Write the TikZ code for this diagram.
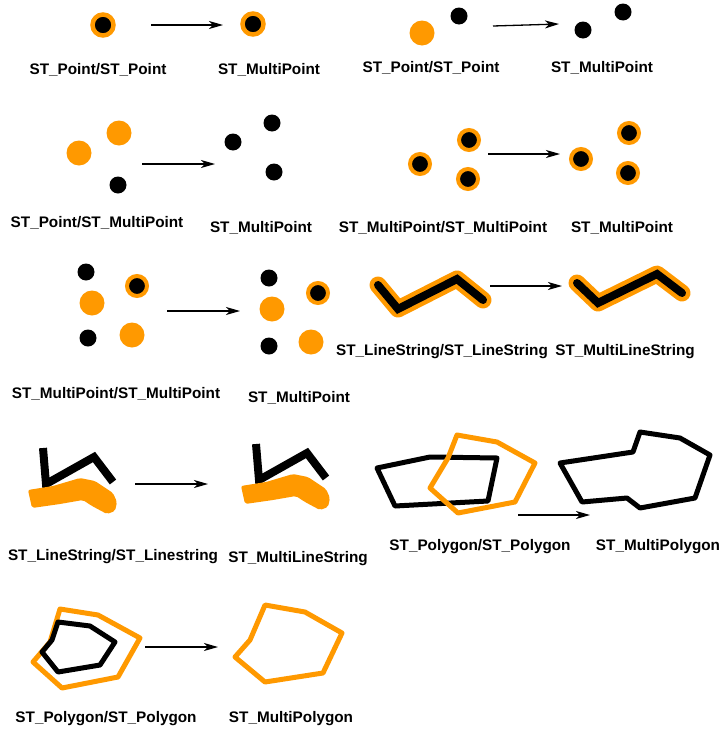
\documentclass[tikz,border=0pt]{standalone}
\usepackage{fontspec}
\setmainfont{Liberation Sans}
\usetikzlibrary{arrows.meta}
\definecolor{orng}{RGB}{255,153,0}
\tikzset{
  lbl/.style={font=\bfseries\fontsize{15.3}{18}\selectfont, anchor=base, inner sep=0pt},
  odot/.style={circle, fill=orng, minimum size=25pt, inner sep=0pt},
  bdot/.style={circle, fill=black, minimum size=17pt, inner sep=0pt},
  rdot/.style={circle, fill=black, draw=orng, line width=4pt, minimum size=20pt, inner sep=0pt},
  rbig/.style={rdot, minimum size=21pt, line width=4.5pt},
  arr/.style={-{Stealth[length=14pt,width=8pt,inset=4pt]}, line width=1.3pt},
  blkpoly/.style={draw=black, line width=5pt, line join=round},
  orgpoly/.style={draw=orng, line width=5pt, line join=round},
  lsout/.style={draw=orng, line width=17pt, line cap=round, line join=round},
  lsin/.style={draw=black, line width=8pt, line cap=round, line join=miter},
  blkline/.style={draw=black, line width=8pt, line cap=butt, line join=miter},
  orgblob/.style={fill=orng, rounded corners=2pt}
}
\begin{document}
\begin{tikzpicture}[x=1pt, y=-1pt]
\path[use as bounding box] (0,0) rectangle (721,731);

% ---------- Panel 1 ----------
\node[rbig] (p1a) at (103,25) {};
\node[rbig] (p1b) at (253,24) {};
\coordinate (a1s) at (151,25); \coordinate (a1e) at (223,25);
\draw[arr] (a1s) -- (a1e);
\node[lbl] (l1) at (98,74.5) {ST\_Point/ST\_Point};
\node[lbl] (l2) at (269,74.5) {ST\_MultiPoint};

% ---------- Panel 2 ----------
\node[odot] (p2a) at (422,33) {};
\node[bdot] (p2b) at (459,16) {};
\coordinate (a2s) at (493,26); \coordinate (a2e) at (559,24);
\draw[arr] (a2s) -- (a2e);
\node[bdot] (p2c) at (583,30) {};
\node[bdot] (p2d) at (623,12) {};
\node[lbl] (l3) at (431,72.5) {ST\_Point/ST\_Point};
\node[lbl] (l4) at (602,72.5) {ST\_MultiPoint};

% ---------- Panel 3 ----------
\node[odot] (p3a) at (79,153) {};
\node[odot] (p3b) at (119,133) {};
\node[bdot] (p3c) at (118,185) {};
\coordinate (a3s) at (142,164); \coordinate (a3e) at (215,164);
\draw[arr] (a3s) -- (a3e);
\node[bdot] (p3d) at (233,142) {};
\node[bdot] (p3e) at (272,123) {};
\node[bdot] (p3f) at (274,172) {};
\node[lbl] (l5) at (97,227.5) {ST\_Point/ST\_MultiPoint};
\node[lbl] (l6) at (261,232.5) {ST\_MultiPoint};

% ---------- Panel 4 ----------
\node[rdot] (p4a) at (420,164) {};
\node[rdot] (p4b) at (469,140) {};
\node[rdot] (p4c) at (468,179) {};
\coordinate (a4s) at (488,154); \coordinate (a4e) at (560,154);
\draw[arr] (a4s) -- (a4e);
\node[rdot] (p4d) at (581,159) {};
\node[rdot] (p4e) at (629,133) {};
\node[rdot] (p4f) at (628,173) {};
\node[lbl] (l7) at (443,232.5) {ST\_MultiPoint/ST\_MultiPoint};
\node[lbl] (l8) at (622,232.5) {ST\_MultiPoint};

% ---------- Panel 5 ----------
\node[bdot] (p5a) at (86,272) {};
\node[rdot] (p5b) at (137,286) {};
\node[odot] (p5c) at (92,303) {};
\node[bdot] (p5d) at (88,338) {};
\node[odot] (p5e) at (132,335) {};
\coordinate (a5s) at (167,311); \coordinate (a5e) at (240,311);
\draw[arr] (a5s) -- (a5e);
\node[bdot] (p5f) at (269,278) {};
\node[rdot] (p5g) at (318,293) {};
\node[odot] (p5h) at (272,309) {};
\node[bdot] (p5i) at (269,346) {};
\node[odot] (p5j) at (311,342) {};
\node[lbl] (l9) at (116,398.5) {ST\_MultiPoint/ST\_MultiPoint};
\node[lbl] (l10) at (299,402.5) {ST\_MultiPoint};

% ---------- Panel 6 ----------
\draw[lsout] (378,285) -- (398,309) -- (457,279) -- (483,300);
\draw[lsin]  (378,285) -- (398,309) -- (457,279) -- (483,300);
\coordinate (a6s) at (490,286); \coordinate (a6e) at (562,286);
\draw[arr] (a6s) -- (a6e);
\draw[lsout] (577,283) -- (598,303) -- (657,274) -- (682,293);
\draw[lsin]  (577,283) -- (598,303) -- (657,274) -- (682,293);
\node[lbl] (l11) at (442,355.5) {ST\_LineString/ST\_LineString};
\node[lbl] (l12) at (625,355.5) {ST\_MultiLineString};

% ---------- Panel 7 ----------
\draw[blkline] (43,448) -- (46,484) -- (94,457) -- (113,482);
\fill[orgblob] (28,490) -- (53,486) -- (80,478) -- (95,481) -- (113,493) -- (117,502)
  -- (115,511) -- (107,514) -- (92,506) -- (83,500) -- (60,504) -- (32,508) -- cycle;
\coordinate (a7s) at (135,484); \coordinate (a7e) at (208,484);
\draw[arr] (a7s) -- (a7e);
\begin{scope}[shift={(213,-4)}]
\draw[blkline] (43,448) -- (46,484) -- (94,457) -- (113,482);
\fill[orgblob] (28,490) -- (53,486) -- (80,478) -- (95,481) -- (113,493) -- (117,502)
  -- (115,511) -- (107,514) -- (92,506) -- (83,500) -- (60,504) -- (32,508) -- cycle;
\end{scope}
\node[lbl] (l13) at (113,560.5) {ST\_LineString/ST\_Linestring};
\node[lbl] (l14) at (298,562.5) {ST\_MultiLineString};

% ---------- Panel 8 ----------
\draw[blkpoly] (377,468) -- (430,457) -- (497,458) -- (488,501) -- (395,506) -- cycle;
\draw[orgpoly] (457,435) -- (497,442) -- (535,463) -- (515,502) -- (458,513) -- (430,488) -- (448,458) -- cycle;
\coordinate (a8s) at (518,515); \coordinate (a8e) at (590,515);
\draw[arr] (a8s) -- (a8e);
\draw[blkpoly] (560,463) -- (633,452) -- (640,432) -- (680,438) -- (710,455) -- (695,498)
  -- (640,508) -- (627,498) -- (582,502) -- cycle;
\node[lbl] (l15) at (480,550.5) {ST\_Polygon/ST\_Polygon};
\node[lbl] (l16) at (658,550.5) {ST\_MultiPolygon};

% ---------- Panel 9 ----------
\draw[orgpoly] (60,609) -- (98,615) -- (140,638) -- (118,677) -- (62,688) -- (33,662) -- (50,642) -- cycle;
\draw[blkpoly] (58,622) -- (90,626) -- (115,642) -- (100,665) -- (58,672) -- (42,652) -- (52,640) -- cycle;
\coordinate (a9s) at (145,647); \coordinate (a9e) at (218,647);
\draw[arr] (a9s) -- (a9e);
\draw[orgpoly] (265,605) -- (305,612) -- (342,633) -- (323,673) -- (265,682) -- (235,657) -- (250,640) -- cycle;
\node[lbl] (l17) at (106,722.5) {ST\_Polygon/ST\_Polygon};
\node[lbl] (l18) at (291,722.5) {ST\_MultiPolygon};
\end{tikzpicture}
\end{document}
